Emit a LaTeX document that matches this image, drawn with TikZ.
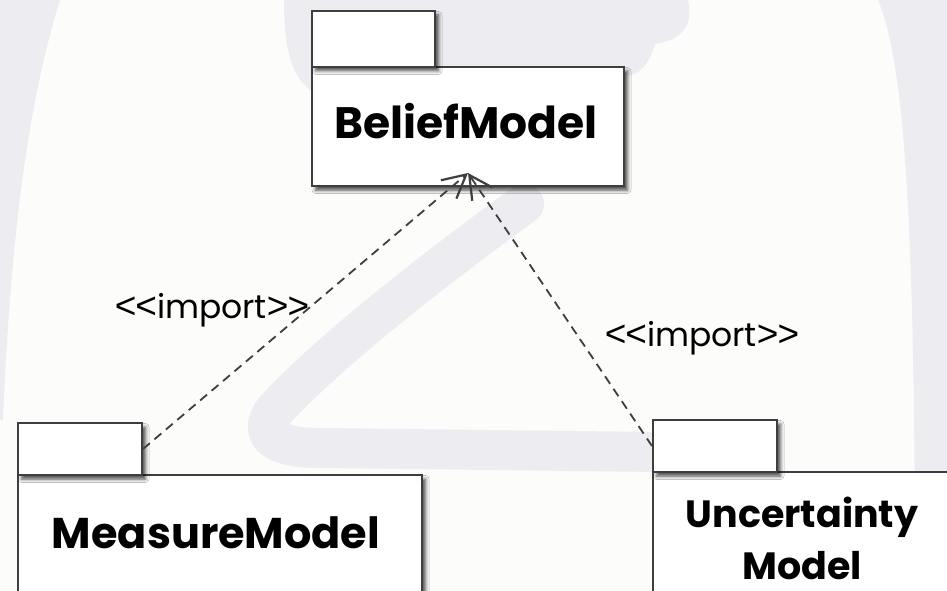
\documentclass[tikz,border=0pt]{standalone}
\usepackage{fontspec}
\setmainfont{Poppins}
\newfontfamily\angfont{Liberation Sans}
\usetikzlibrary{arrows.meta,shadows.blur}
\definecolor{bg}{RGB}{252,252,250}
\definecolor{wm}{RGB}{237,237,241}
\definecolor{edge}{RGB}{62,62,62}
\newcommand\stlt{{\angfont\fontsize{37}{38}\selectfont <\kern-1pt<}}
\newcommand\stgt{{\angfont\fontsize{37}{38}\selectfont >\kern-1pt>}}
\begin{document}
\begin{tikzpicture}[x=1pt,y=1pt,
  pkg/.style={draw=edge, line width=2pt, fill=white, rectangle, inner sep=0pt, anchor=north west,
    blur shadow={shadow xshift=3.5pt, shadow yshift=-4pt, shadow blur radius=3.5pt, shadow opacity=70}},
  pkgname/.style={font=\bfseries\fontsize{44}{52}\selectfont, text=black, inner sep=0pt, align=center},
  dep/.style={draw=edge, line width=1.8pt, dash pattern=on 9pt off 6pt,
    -{Straight Barb[length=23pt,width=24pt,line width=2.2pt]}},
  stereo/.style={font=\fontsize{33}{38}\selectfont, text=black, inner sep=0pt}]
\useasboundingbox (0,0) rectangle (947,-591);
\clip (0,0) rectangle (947,-591);
\fill[bg] (0,0) rectangle (947,-591);
% faint watermark
\fill[wm] (0,0) -- (60,0) .. controls (35,-80) and (12,-200) .. (3,-420) -- (0,-420) -- cycle;
\fill[wm] (878,0) .. controls (903,-60) and (915,-200) .. (915,-591) -- (947,-591) -- (947,0) -- cycle;
\fill[wm] (284,0) -- (688,0) .. controls (694,-28) and (680,-40) .. (655,-44)
  .. controls (650,-62) and (640,-76) .. (625,-76) -- (320,-95)
  .. controls (292,-85) and (284,-50) .. (284,0) -- cycle;
\draw[wm, line width=40pt, line cap=round, line join=round]
  (524,-204) .. controls (440,-265) and (330,-350) .. (275,-410)
  .. controls (258,-432) and (270,-448) .. (320,-448) -- (660,-452);
% BeliefModel
\node[pkg, minimum width=312pt, minimum height=119pt] (beliefBody) at (311,-66) {};
\node[pkg, minimum width=123pt, minimum height=56pt] (beliefTab) at (311,-10) {};
\node[pkgname, anchor=base] (beliefName) at (466,-139) {BeliefModel};
% MeasureModel
\node[pkg, minimum width=404pt, minimum height=160pt] (measureBody) at (17,-474) {};
\node[pkg, minimum width=124pt, minimum height=52pt] (measureTab) at (17,-422) {};
\node[pkgname, font=\bfseries\fontsize{43}{52}\selectfont, anchor=base] (measureName) at (216,-548) {MeasureModel};
% UncertaintyModel
\node[pkg, minimum width=330pt, minimum height=160pt] (uncBody) at (652,-471) {};
\node[pkg, minimum width=124pt, minimum height=52pt] (uncTab) at (652,-419) {};
\node[pkgname, font=\bfseries\fontsize{38}{52}\selectfont, anchor=base] (uncName) at (802,-579) {Uncertainty\\Model};
% connectors
\coordinate (tip) at (468,-173);
\draw[dep] (measureTab.east) -- (tip);
\draw[dep] (uncTab.west) -- (tip);
\node[stereo, anchor=base] (lblLeft) at (212,-318) {\stlt import\stgt};
\node[stereo, anchor=base] (lblRight) at (702,-346) {\stlt import\stgt};
\end{tikzpicture}
\end{document}
